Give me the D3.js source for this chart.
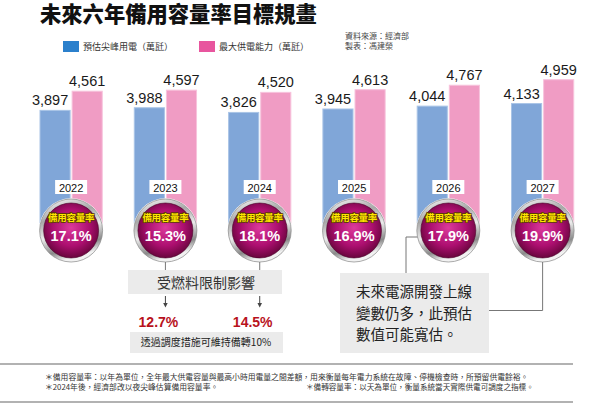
<!DOCTYPE html>
<html><head><meta charset="utf-8">
<script src="https://cdn.jsdelivr.net/npm/d3@7"></script>
<style>
html,body{margin:0;padding:0;background:#fff;}
svg{display:block;}
</style></head>
<body>
<script>
const years = ["2022","2023","2024","2025","2026","2027"];
const peakDemand = [3897, 3988, 3826, 3945, 4044, 4133];
const maxSupply = [4561, 4597, 4520, 4613, 4767, 4959];
const reserveRate = [17.1, 15.3, 18.1, 16.9, 17.9, 19.9];
const fuelLimitedYears = ["2023", "2024"];
const fuelLimitedRate = [12.7, 14.5];
const seriesNames = ["預估尖峰用電（萬瓩）", "最大供電能力（萬瓩）"];
const seriesKeys = ["peak", "supply"];
const title = "未來六年備用容量率目標規畫";
const sourceLines = ["資料來源：經濟部", "製表：馮建榮"];
const noteLeft = ["＊備用容量率：以年為單位，全年最大供電容量與最高小時用電量之間差額，用來衡量每年電力系統在故障、停機檢查時，所預留供電餘裕。", "＊2024年後，經濟部改以夜尖峰估算備用容量率。"];
const noteRight = "＊備轉容量率：以天為單位，衡量系統當天實際供電可調度之指標。";
const box1Text = "受燃料限制影響";
const box2Text = "透過調度措施可維持備轉10%";
const box3Lines = ["未來電源開發上線", "變數仍多，此預估", "數值可能寬估。"];

const W = 600, H = 403;
const CJK = "'Noto Sans CJK TC','Noto Sans CJK SC',sans-serif";
const NUM = "'Liberation Sans',Arial,sans-serif";
const barColors = {peak: "#80a6d8", supply: "#f09cc4"};
const legendColors = {peak: "#2b80cc", supply: "#e8559e"};

const svg = d3.select("body").append("svg").attr("width", W).attr("height", H);
const defs = svg.append("defs");

const ring = defs.append("linearGradient").attr("id","ring").attr("x1","0").attr("y1","0").attr("x2","0.3").attr("y2","1");
ring.append("stop").attr("offset","0%").attr("stop-color","#ffffff");
ring.append("stop").attr("offset","35%").attr("stop-color","#a8a8a8");
ring.append("stop").attr("offset","60%").attr("stop-color","#ececec");
ring.append("stop").attr("offset","85%").attr("stop-color","#8a8a8a");
ring.append("stop").attr("offset","100%").attr("stop-color","#f2f2f2");

const ball = defs.append("radialGradient").attr("id","ball").attr("cx","50%").attr("cy","45%").attr("r","60%");
ball.append("stop").attr("offset","0%").attr("stop-color","#dc3a9c");
ball.append("stop").attr("offset","55%").attr("stop-color","#ad0f70");
ball.append("stop").attr("offset","100%").attr("stop-color","#5a0332");

// Title
svg.append("text").attr("x", 40).attr("y", 22).text(title)
  .attr("font-family", CJK).attr("font-weight", 900).attr("font-size", 21.3).attr("fill", "#111");

// Legend
const legend = svg.append("g");
const legX = [63, 199];
seriesKeys.forEach((k, i) => {
  legend.append("rect").attr("x", legX[i]).attr("y", 41).attr("width", 16).attr("height", 11).attr("fill", legendColors[k]);
  legend.append("text").attr("x", legX[i] + 20).attr("y", 50).text(seriesNames[i])
    .attr("font-family", CJK).attr("font-size", 9).attr("fill", "#333");
});
sourceLines.forEach((s, i) => {
  svg.append("text").attr("x", 345).attr("y", 39 + i * 10).text(s)
    .attr("font-family", CJK).attr("font-size", 8).attr("fill", "#444");
});

// Scales
const step = 94.3;
const x0 = d3.scaleBand().domain(years).range([40 - 0.17 * step, 40 - 0.17 * step + step * years.length])
  .paddingInner(0.34).paddingOuter(0.17);
const x1 = d3.scaleBand().domain(seriesKeys).range([0, x0.bandwidth()]).paddingInner(0.0625);
const y = d3.scaleLinear().domain([0, 5000]).range([223, 78.5]);

const data = years.map((yr, i) => ({year: yr, peak: peakDemand[i], supply: maxSupply[i], rate: reserveRate[i]}));
const fmt = d3.format(",");

const groups = svg.append("g").selectAll("g").data(data).join("g")
  .attr("transform", d => `translate(${x0(d.year)},0)`);

groups.selectAll("rect.bar").data(d => seriesKeys.map(k => ({key: k, value: d[k]}))).join("rect")
  .attr("class", "bar")
  .attr("x", d => x1(d.key)).attr("width", x1.bandwidth())
  .attr("y", d => y(d.value)).attr("height", d => y(0) - y(d.value))
  .attr("fill", d => barColors[d.key])
  .attr("stroke", d => d.key === "peak" ? "#a9c4e6" : "#f7c3dc").attr("stroke-width", 1);

groups.selectAll("text.val").data(d => seriesKeys.map(k => ({key: k, value: d[k]}))).join("text")
  .attr("class", "val")
  .attr("x", d => x1(d.key) + x1.bandwidth() / 2 + (d.key === "peak" ? -5 : 0))
  .attr("y", d => y(d.value) - 5)
  .attr("text-anchor", "middle")
  .attr("font-family", NUM).attr("font-size", 14.5).attr("fill", "#1a1a1a")
  .text(d => fmt(d.value));

const cx = x0.bandwidth() / 2;
// year box
groups.append("rect").attr("x", cx - 16).attr("y", 180).attr("width", 32).attr("height", 14).attr("fill", "#fff");
groups.append("text").attr("x", cx).attr("y", 191.5).attr("text-anchor", "middle")
  .attr("font-family", NUM).attr("font-size", 11).attr("fill", "#111").text(d => d.year);

// medallion
const CY = 230.5, R = 31.5;
groups.append("circle").attr("cx", cx).attr("cy", CY).attr("r", R + 0.8).attr("fill", "#fff");
groups.append("circle").attr("cx", cx).attr("cy", CY).attr("r", R).attr("fill", "url(#ring)").attr("stroke", "#888").attr("stroke-width", 0.7);
groups.append("circle").attr("cx", cx).attr("cy", CY).attr("r", R - 4).attr("fill", "url(#ball)").attr("stroke", "#4a0229").attr("stroke-width", 0.6);
groups.append("text").attr("x", cx).attr("y", 221).attr("text-anchor", "middle")
  .attr("font-family", CJK).attr("font-weight", 700).attr("font-size", 9.5).attr("letter-spacing", -0.3)
  .attr("fill", "#ffe600").attr("stroke", "#5a3a00").attr("stroke-width", 1.6).attr("paint-order", "stroke")
  .text("備用容量率");
groups.append("text").attr("x", cx).attr("y", 240.5).attr("text-anchor", "middle")
  .attr("font-family", NUM).attr("font-weight", 700).attr("font-size", 14.5).attr("fill", "#fff")
  .text(d => d.rate.toFixed(1) + "%");

// Annotation: fuel limited
const ann = svg.append("g");
const lineCol = "#777";
const centerOf = yr => x0(yr) + x0.bandwidth() / 2;
ann.append("rect").attr("x", 128).attr("y", 270).attr("width", 154).attr("height", 24).attr("fill", "#ebebeb");
ann.append("text").attr("x", 206).attr("y", 288).attr("text-anchor", "middle")
  .attr("font-family", CJK).attr("font-size", 14).attr("fill", "#333").text(box1Text);
defs.append("marker").attr("id", "arr").attr("viewBox", "0 0 6 6").attr("refX", 3).attr("refY", 3)
  .attr("markerWidth", 5).attr("markerHeight", 5).attr("orient", "auto")
  .append("path").attr("d", "M0,0L6,3L0,6Z").attr("fill", "#444");
fuelLimitedYears.forEach((yr, i) => {
  const c = centerOf(yr);
  ann.append("line").attr("x1", c).attr("x2", c).attr("y1", CY + R).attr("y2", 270).attr("stroke", lineCol);
  ann.append("line").attr("x1", c).attr("x2", c).attr("y1", 296).attr("y2", 305).attr("stroke", "#444")
    .attr("marker-end", "url(#arr)");
  ann.append("text").attr("x", c - 7).attr("y", 327).attr("text-anchor", "middle")
    .attr("font-family", NUM).attr("font-weight", 700).attr("font-size", 14).attr("fill", "#b8121c")
    .text(fuelLimitedRate[i].toFixed(1) + "%");
});
ann.append("rect").attr("x", 130).attr("y", 332).attr("width", 153).attr("height", 21).attr("fill", "#ebebeb");
ann.append("text").attr("x", 206).attr("y", 346).attr("text-anchor", "middle")
  .attr("font-family", CJK).attr("font-size", 10).attr("fill", "#222").text(box2Text);

// Annotation: future uncertainty
const c26 = centerOf("2026"), c27 = centerOf("2027");
const boxL = 340, boxR = 489, boxT = 273, boxB = 353;
const yy = 237;
const xEdge = c26 - Math.sqrt(R * R - (yy - CY) * (yy - CY));
ann.append("path").attr("d", `M${xEdge},${yy}H406V${boxT}`).attr("fill", "none").attr("stroke", lineCol);
ann.append("path").attr("d", `M${c27},${CY + R}V310.5H${boxR}`).attr("fill", "none").attr("stroke", lineCol);
ann.append("rect").attr("x", boxL).attr("y", boxT).attr("width", boxR - boxL).attr("height", boxB - boxT).attr("fill", "#ebebeb");
box3Lines.forEach((t, i) => {
  ann.append("text").attr("x", 356).attr("y", 297 + i * 21.6).text(t)
    .attr("font-family", CJK).attr("font-size", 14.5).attr("fill", "#222");
});

// Footer
svg.append("line").attr("x1", 0).attr("x2", 573).attr("y1", 364).attr("y2", 364).attr("stroke", "#999").attr("stroke-width", 1.5);
svg.append("line").attr("x1", 0).attr("x2", 573).attr("y1", 402).attr("y2", 402).attr("stroke", "#999").attr("stroke-width", 1.5);
noteLeft.forEach((t, i) => {
  svg.append("text").attr("x", 45).attr("y", 379.5 + i * 10).text(t)
    .attr("font-family", CJK).attr("font-size", 7.8).attr("fill", "#333");
});
svg.append("text").attr("x", 306).attr("y", 389.5).text(noteRight)
  .attr("font-family", CJK).attr("font-size", 7.6).attr("fill", "#333");
</script>
</body></html>
